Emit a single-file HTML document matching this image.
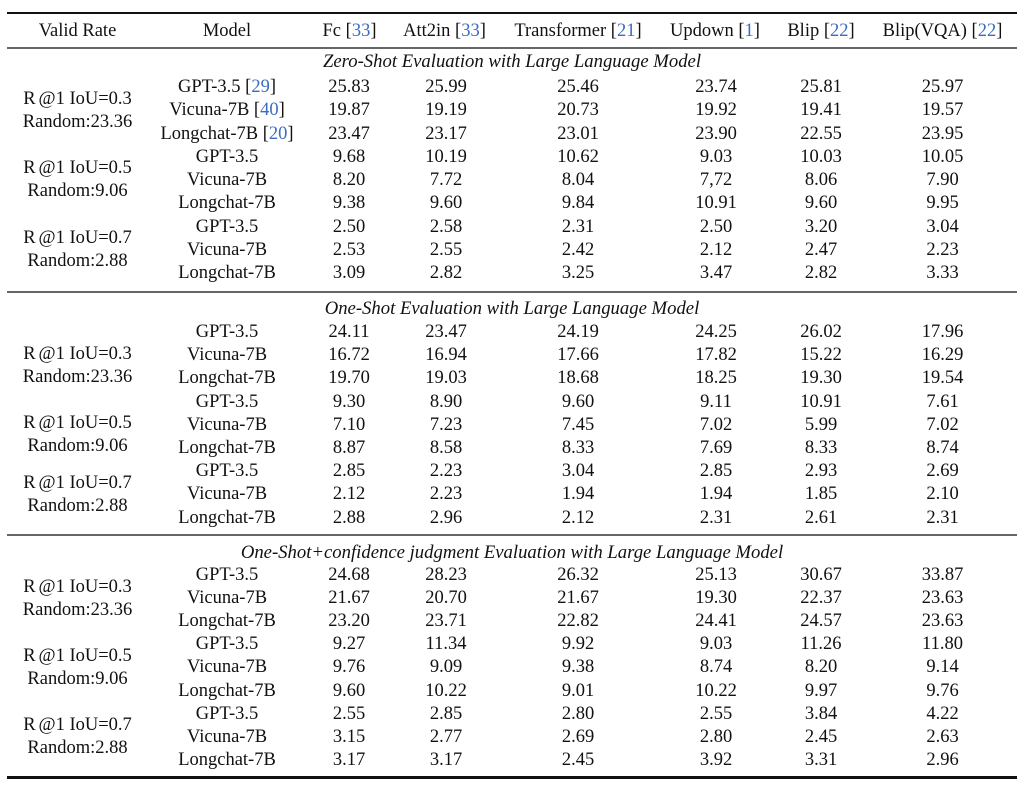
<!DOCTYPE html>
<html><head><meta charset="utf-8">
<style>
html,body{margin:0;padding:0;background:#fff;}
body{width:1024px;height:786px;position:relative;overflow:hidden;font-family:"Liberation Serif","Times New Roman",serif;font-size:18.5px;color:#111;}
.r{position:absolute;left:0;width:1024px;height:20px;line-height:20px;}
.r > span{position:absolute;top:0;transform:translateX(-50%);white-space:nowrap;}
.c1{left:77.5px}.c2{left:227px}.c3{left:349px}.c4{left:446px}.c5{left:578px}.c6{left:716px}.c7{left:821px}.c8{left:942.5px}
.t{left:512px;font-style:italic;font-size:18.7px;}
b{font-weight:normal;color:#3a6cc0;}
.rule{position:absolute;left:7px;width:1010px;}
.g{margin-left:3px;}
</style></head><body>
<div class="rule" style="top:12px;height:2px;background:#111;"></div>
<div class="rule" style="top:47px;height:1.5px;background:#666;"></div>
<div class="rule" style="top:291px;height:1.5px;background:#666;"></div>
<div class="rule" style="top:534px;height:1.5px;background:#666;"></div>
<div class="rule" style="top:776px;height:2.5px;background:#111;"></div>

<div class="r" style="top:20.7px"><span class="c1">Valid Rate</span><span class="c2">Model</span><span class="c3" style="left:349.5px">Fc [<b>33</b>]</span><span class="c4" style="left:444.5px">Att2in [<b>33</b>]</span><span class="c5">Transformer [<b>21</b>]</span><span class="c6" style="left:715px">Updown [<b>1</b>]</span><span class="c7">Blip [<b>22</b>]</span><span class="c8">Blip(VQA) [<b>22</b>]</span></div>

<!-- Section 1 -->
<div class="r" style="top:52px"><span class="t">Zero-Shot Evaluation with Large Language Model</span></div>
<div class="r" style="top:88.75px"><span class="c1">R<i class="g" style="font-style:normal">@1 IoU=0.3</i></span></div>
<div class="r" style="top:111.75px"><span class="c1">Random:23.36</span></div>
<div class="r" style="top:158px"><span class="c1">R<i class="g" style="font-style:normal">@1 IoU=0.5</i></span></div>
<div class="r" style="top:181px"><span class="c1">Random:9.06</span></div>
<div class="r" style="top:228.25px"><span class="c1">R<i class="g" style="font-style:normal">@1 IoU=0.7</i></span></div>
<div class="r" style="top:251.25px"><span class="c1">Random:2.88</span></div>

<div class="r" style="top:77px"><span class="c2">GPT-3.5 [<b>29</b>]</span><span class="c3">25.83</span><span class="c4">25.99</span><span class="c5">25.46</span><span class="c6">23.74</span><span class="c7">25.81</span><span class="c8">25.97</span></div>
<div class="r" style="top:100.25px"><span class="c2">Vicuna-7B [<b>40</b>]</span><span class="c3">19.87</span><span class="c4">19.19</span><span class="c5">20.73</span><span class="c6">19.92</span><span class="c7">19.41</span><span class="c8">19.57</span></div>
<div class="r" style="top:123.5px"><span class="c2">Longchat-7B [<b>20</b>]</span><span class="c3">23.47</span><span class="c4">23.17</span><span class="c5">23.01</span><span class="c6">23.90</span><span class="c7">22.55</span><span class="c8">23.95</span></div>
<div class="r" style="top:146.75px"><span class="c2">GPT-3.5</span><span class="c3">9.68</span><span class="c4">10.19</span><span class="c5">10.62</span><span class="c6">9.03</span><span class="c7">10.03</span><span class="c8">10.05</span></div>
<div class="r" style="top:170px"><span class="c2">Vicuna-7B</span><span class="c3">8.20</span><span class="c4">7.72</span><span class="c5">8.04</span><span class="c6">7,72</span><span class="c7">8.06</span><span class="c8">7.90</span></div>
<div class="r" style="top:193.25px"><span class="c2">Longchat-7B</span><span class="c3">9.38</span><span class="c4">9.60</span><span class="c5">9.84</span><span class="c6">10.91</span><span class="c7">9.60</span><span class="c8">9.95</span></div>
<div class="r" style="top:216.5px"><span class="c2">GPT-3.5</span><span class="c3">2.50</span><span class="c4">2.58</span><span class="c5">2.31</span><span class="c6">2.50</span><span class="c7">3.20</span><span class="c8">3.04</span></div>
<div class="r" style="top:239.75px"><span class="c2">Vicuna-7B</span><span class="c3">2.53</span><span class="c4">2.55</span><span class="c5">2.42</span><span class="c6">2.12</span><span class="c7">2.47</span><span class="c8">2.23</span></div>
<div class="r" style="top:263px"><span class="c2">Longchat-7B</span><span class="c3">3.09</span><span class="c4">2.82</span><span class="c5">3.25</span><span class="c6">3.47</span><span class="c7">2.82</span><span class="c8">3.33</span></div>

<!-- Section 2 -->
<div class="r" style="top:299.3px"><span class="t">One-Shot Evaluation with Large Language Model</span></div>
<div class="r" style="top:343.7px"><span class="c1">R<i class="g" style="font-style:normal">@1 IoU=0.3</i></span></div>
<div class="r" style="top:366.7px"><span class="c1">Random:23.36</span></div>
<div class="r" style="top:413.3px"><span class="c1">R<i class="g" style="font-style:normal">@1 IoU=0.5</i></span></div>
<div class="r" style="top:436.3px"><span class="c1">Random:9.06</span></div>
<div class="r" style="top:472.9px"><span class="c1">R<i class="g" style="font-style:normal">@1 IoU=0.7</i></span></div>
<div class="r" style="top:495.9px"><span class="c1">Random:2.88</span></div>

<div class="r" style="top:322px"><span class="c2">GPT-3.5</span><span class="c3">24.11</span><span class="c4">23.47</span><span class="c5">24.19</span><span class="c6">24.25</span><span class="c7">26.02</span><span class="c8">17.96</span></div>
<div class="r" style="top:345.2px"><span class="c2">Vicuna-7B</span><span class="c3">16.72</span><span class="c4">16.94</span><span class="c5">17.66</span><span class="c6">17.82</span><span class="c7">15.22</span><span class="c8">16.29</span></div>
<div class="r" style="top:368.4px"><span class="c2">Longchat-7B</span><span class="c3">19.70</span><span class="c4">19.03</span><span class="c5">18.68</span><span class="c6">18.25</span><span class="c7">19.30</span><span class="c8">19.54</span></div>
<div class="r" style="top:391.6px"><span class="c2">GPT-3.5</span><span class="c3">9.30</span><span class="c4">8.90</span><span class="c5">9.60</span><span class="c6">9.11</span><span class="c7">10.91</span><span class="c8">7.61</span></div>
<div class="r" style="top:414.8px"><span class="c2">Vicuna-7B</span><span class="c3">7.10</span><span class="c4">7.23</span><span class="c5">7.45</span><span class="c6">7.02</span><span class="c7">5.99</span><span class="c8">7.02</span></div>
<div class="r" style="top:438px"><span class="c2">Longchat-7B</span><span class="c3">8.87</span><span class="c4">8.58</span><span class="c5">8.33</span><span class="c6">7.69</span><span class="c7">8.33</span><span class="c8">8.74</span></div>
<div class="r" style="top:461.2px"><span class="c2">GPT-3.5</span><span class="c3">2.85</span><span class="c4">2.23</span><span class="c5">3.04</span><span class="c6">2.85</span><span class="c7">2.93</span><span class="c8">2.69</span></div>
<div class="r" style="top:484.4px"><span class="c2">Vicuna-7B</span><span class="c3">2.12</span><span class="c4">2.23</span><span class="c5">1.94</span><span class="c6">1.94</span><span class="c7">1.85</span><span class="c8">2.10</span></div>
<div class="r" style="top:507.6px"><span class="c2">Longchat-7B</span><span class="c3">2.88</span><span class="c4">2.96</span><span class="c5">2.12</span><span class="c6">2.31</span><span class="c7">2.61</span><span class="c8">2.31</span></div>

<!-- Section 3 -->
<div class="r" style="top:543px"><span class="t">One-Shot+confidence judgment Evaluation with Large Language Model</span></div>
<div class="r" style="top:576.6px"><span class="c1">R<i class="g" style="font-style:normal">@1 IoU=0.3</i></span></div>
<div class="r" style="top:599.6px"><span class="c1">Random:23.36</span></div>
<div class="r" style="top:645.9px"><span class="c1">R<i class="g" style="font-style:normal">@1 IoU=0.5</i></span></div>
<div class="r" style="top:668.9px"><span class="c1">Random:9.06</span></div>
<div class="r" style="top:715.2px"><span class="c1">R<i class="g" style="font-style:normal">@1 IoU=0.7</i></span></div>
<div class="r" style="top:738.2px"><span class="c1">Random:2.88</span></div>

<div class="r" style="top:565px"><span class="c2">GPT-3.5</span><span class="c3">24.68</span><span class="c4">28.23</span><span class="c5">26.32</span><span class="c6">25.13</span><span class="c7">30.67</span><span class="c8">33.87</span></div>
<div class="r" style="top:588.1px"><span class="c2">Vicuna-7B</span><span class="c3">21.67</span><span class="c4">20.70</span><span class="c5">21.67</span><span class="c6">19.30</span><span class="c7">22.37</span><span class="c8">23.63</span></div>
<div class="r" style="top:611.2px"><span class="c2">Longchat-7B</span><span class="c3">23.20</span><span class="c4">23.71</span><span class="c5">22.82</span><span class="c6">24.41</span><span class="c7">24.57</span><span class="c8">23.63</span></div>
<div class="r" style="top:634.3px"><span class="c2">GPT-3.5</span><span class="c3">9.27</span><span class="c4">11.34</span><span class="c5">9.92</span><span class="c6">9.03</span><span class="c7">11.26</span><span class="c8">11.80</span></div>
<div class="r" style="top:657.4px"><span class="c2">Vicuna-7B</span><span class="c3">9.76</span><span class="c4">9.09</span><span class="c5">9.38</span><span class="c6">8.74</span><span class="c7">8.20</span><span class="c8">9.14</span></div>
<div class="r" style="top:680.5px"><span class="c2">Longchat-7B</span><span class="c3">9.60</span><span class="c4">10.22</span><span class="c5">9.01</span><span class="c6">10.22</span><span class="c7">9.97</span><span class="c8">9.76</span></div>
<div class="r" style="top:703.6px"><span class="c2">GPT-3.5</span><span class="c3">2.55</span><span class="c4">2.85</span><span class="c5">2.80</span><span class="c6">2.55</span><span class="c7">3.84</span><span class="c8">4.22</span></div>
<div class="r" style="top:726.7px"><span class="c2">Vicuna-7B</span><span class="c3">3.15</span><span class="c4">2.77</span><span class="c5">2.69</span><span class="c6">2.80</span><span class="c7">2.45</span><span class="c8">2.63</span></div>
<div class="r" style="top:749.8px"><span class="c2">Longchat-7B</span><span class="c3">3.17</span><span class="c4">3.17</span><span class="c5">2.45</span><span class="c6">3.92</span><span class="c7">3.31</span><span class="c8">2.96</span></div>
</body></html>
